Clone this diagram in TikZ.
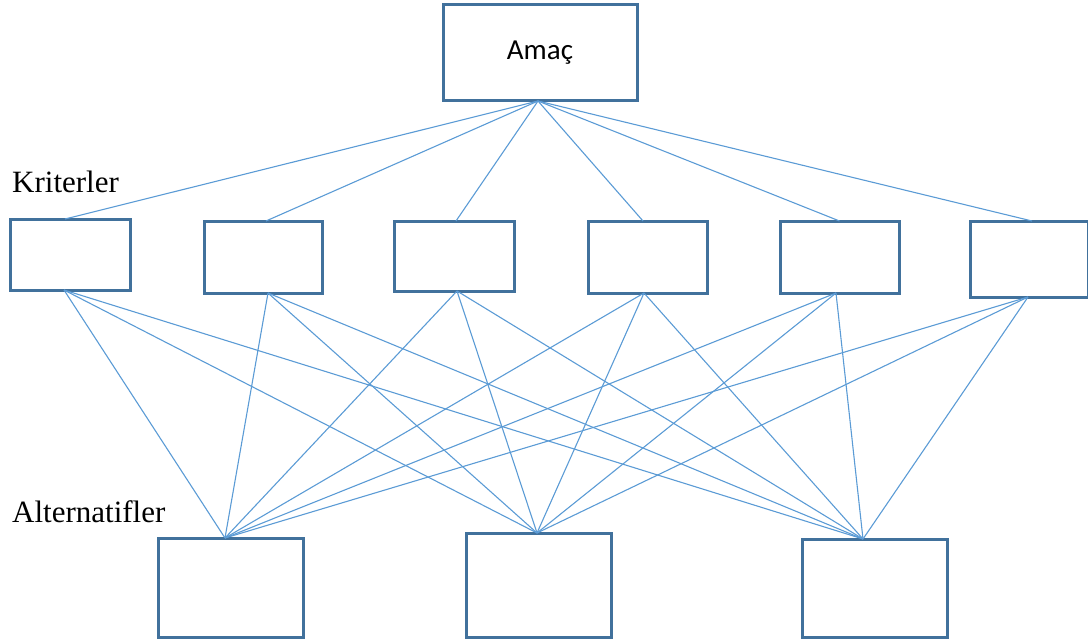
\documentclass[tikz,border=0pt]{standalone}
\usepackage{fontspec}
\setmainfont{Liberation Serif}
\newfontfamily\calib{Carlito}
\definecolor{boxblue}{HTML}{41719C}
\definecolor{lineblue}{HTML}{5B9BD5}
\begin{document}
\begin{tikzpicture}[x=1pt,y=-1pt,
  box/.style={draw=boxblue,line width=3pt,fill=white,inner sep=0pt,outer sep=0pt},
  link/.style={draw=lineblue,line width=1.1pt},
  lbl/.style={anchor=base west,inner sep=0pt,font=\fontsize{31}{36}\selectfont}]
\useasboundingbox (0,0) rectangle (1088,642);
\node[box,minimum width=194pt,minimum height=96pt] (goal) at (540,53) {\calib\fontsize{29}{34}\selectfont Amaç};
\node[box,minimum width=120pt,minimum height=71pt] (k1) at (70,254.5) {};
\node[box,minimum width=118pt,minimum height=72pt] (k2) at (263,257) {};
\node[box,minimum width=120pt,minimum height=70pt] (k3) at (454,256) {};
\node[box,minimum width=119pt,minimum height=72pt] (k4) at (647.5,257) {};
\node[box,minimum width=119pt,minimum height=72pt] (k5) at (839.5,257) {};
\node[box,minimum width=118pt,minimum height=76pt] (k6) at (1029,259) {};
\node[box,minimum width=145pt,minimum height=99pt] (a1) at (230.5,587.5) {};
\node[box,minimum width=145pt,minimum height=104pt] (a2) at (538.5,585) {};
\node[box,minimum width=145pt,minimum height=98pt] (a3) at (874.5,588) {};
% connection points
\coordinate (g) at ([xshift=-2pt]goal.south);
\coordinate (k1t) at ([xshift=-5pt]k1.north);
\coordinate (k2t) at ([xshift=3pt]k2.north);
\coordinate (k3t) at ([xshift=2pt]k3.north);
\coordinate (k4t) at ([xshift=-4.5pt]k4.north);
\coordinate (k5t) at ([xshift=0pt]k5.north);
\coordinate (k6t) at ([xshift=3pt]k6.north);
\coordinate (k1b) at ([xshift=-6pt]k1.south);
\coordinate (k2b) at ([xshift=5pt]k2.south);
\coordinate (k3b) at ([xshift=3pt]k3.south);
\coordinate (k4b) at ([xshift=-3.5pt]k4.south);
\coordinate (k5b) at ([xshift=-3.5pt]k5.south);
\coordinate (k6b) at ([xshift=-1pt]k6.south);
\coordinate (a1t) at ([xshift=-5.5pt]a1.north);
\coordinate (a2t) at ([xshift=-1.5pt]a2.north);
\coordinate (a3t) at ([xshift=-11.5pt]a3.north);
\foreach \k in {k1t,k2t,k3t,k4t,k5t,k6t} \path[link] (g) -- (\k);
\foreach \k in {k1b,k2b,k3b,k4b,k5b,k6b}
  \foreach \a in {a1t,a2t,a3t} \path[link] (\k) -- (\a);
\node[lbl] (kl) at (12,192) {Kriterler};
\node[lbl] (al) at (12,522) {Alternatifler};
\end{tikzpicture}
\end{document}
